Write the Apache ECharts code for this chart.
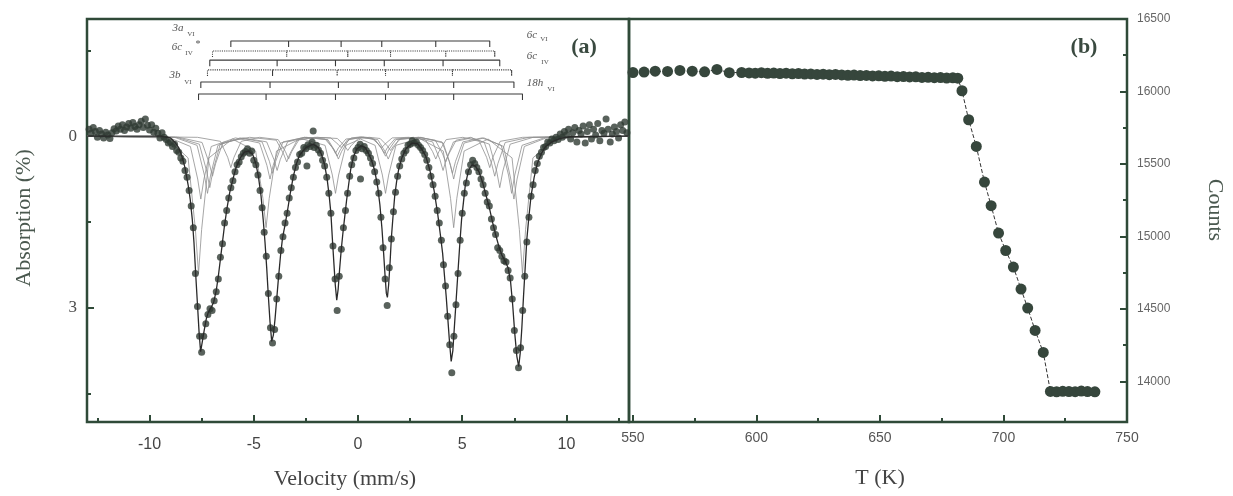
<!DOCTYPE html>
<html><head><meta charset="utf-8">
<script src="https://cdn.jsdelivr.net/npm/echarts@6/dist/echarts.min.js"></script>
<style>html,body{margin:0;padding:0;background:#fff}#c{width:1233px;height:496px}</style>
</head><body><div id="c"></div>
<script>
// ---------------- data ----------------
const velocityTicks = [-10, -5, 0, 5, 10];
const velocityMinorTicks = [-12.5, -7.5, -2.5, 2.5, 7.5, 12.5];
const absorptionTicks = [0, 3];
const absorptionMinorTicks = [-1.5, 1.5, 4.5];
const tempTicks = [550, 600, 650, 700, 750];
const tempMinorTicks = [575, 625, 675, 725];
const countTicks = [14000, 14500, 15000, 15500, 16000, 16500];
const countMinorTicks = [14250, 14750, 15250, 15750, 16250];

// Mossbauer spectrum: [velocity mm/s, absorption %]
const spectrumPoints = [
[-12.9,-0.12],[-12.8,-0.05],[-12.7,-0.15],[-12.6,-0.08],[-12.5,0.02],[-12.4,-0.1],[-12.3,-0.04],[-12.2,0.03],[-12.1,-0.07],[-12.0,-0.02],
[-11.9,0.04],[-11.8,-0.06],[-11.7,-0.13],[-11.6,-0.09],[-11.5,-0.18],[-11.4,-0.12],[-11.3,-0.2],[-11.2,-0.1],[-11.1,-0.16],[-11.0,-0.22],
[-10.9,-0.14],[-10.8,-0.24],[-10.7,-0.17],[-10.6,-0.12],[-10.5,-0.2],[-10.4,-0.26],[-10.3,-0.15],[-10.2,-0.3],[-10.1,-0.19],[-10.0,-0.11],
[-9.9,-0.2],[-9.8,-0.07],[-9.7,-0.14],[-9.6,-0.05],[-9.5,0.03],[-9.4,-0.06],[-9.3,0.02],[-9.2,0.06],[-9.1,0.12],[-9.0,0.1],
[-8.9,0.18],[-8.8,0.14],[-8.7,0.25],[-8.6,0.28],[-8.5,0.38],[-8.4,0.44],[-8.3,0.6],[-8.2,0.72],[-8.1,0.95],[-8.0,1.22],
[-7.9,1.6],[-7.8,2.4],[-7.7,2.98],[-7.6,3.5],[-7.5,3.78],[-7.4,3.5],[-7.3,3.28],[-7.2,3.12],[-7.1,3.02],[-7.0,3.05],
[-6.9,2.88],[-6.8,2.72],[-6.7,2.5],[-6.6,2.12],[-6.5,1.88],[-6.4,1.52],[-6.3,1.3],[-6.2,1.08],[-6.1,0.9],[-6.0,0.78],
[-5.9,0.62],[-5.8,0.5],[-5.7,0.45],[-5.6,0.36],[-5.5,0.3],[-5.4,0.27],[-5.3,0.22],[-5.2,0.3],[-5.1,0.26],[-5.0,0.42],
[-4.9,0.5],[-4.8,0.68],[-4.7,0.95],[-4.6,1.25],[-4.5,1.68],[-4.4,2.1],[-4.3,2.75],[-4.2,3.35],[-4.1,3.62],[-4.0,3.38],
[-3.9,2.85],[-3.8,2.45],[-3.7,2.0],[-3.6,1.76],[-3.5,1.52],[-3.4,1.35],[-3.3,1.08],[-3.2,0.9],[-3.1,0.72],[-3.0,0.55],
[-2.9,0.45],[-2.8,0.32],[-2.7,0.3],[-2.6,0.2],[-2.5,0.22],[-2.45,0.52],[-2.4,0.15],[-2.3,0.18],[-2.2,0.1],[-2.15,-0.09],[-2.1,0.2],[-2.0,0.16],
[-1.9,0.24],[-1.8,0.3],[-1.7,0.42],[-1.6,0.52],[-1.5,0.72],[-1.4,1.0],[-1.3,1.35],[-1.2,1.92],[-1.1,2.5],[-1.0,3.05],
[-0.9,2.45],[-0.8,1.98],[-0.7,1.6],[-0.6,1.3],[-0.5,1.0],[-0.4,0.7],[-0.3,0.5],[-0.2,0.38],[-0.1,0.25],[0.0,0.2],
[0.1,0.14],[0.12,0.75],[0.2,0.22],[0.3,0.18],[0.4,0.25],[0.5,0.3],[0.6,0.38],[0.7,0.48],[0.8,0.62],[0.9,0.8],[1.0,1.0],
[1.1,1.42],[1.2,1.95],[1.3,2.5],[1.4,2.96],[1.5,2.3],[1.6,1.8],[1.7,1.32],[1.8,0.98],[1.9,0.7],[2.0,0.52],
[2.1,0.4],[2.2,0.3],[2.3,0.25],[2.4,0.16],[2.5,0.14],[2.6,0.08],[2.7,0.12],[2.8,0.1],[2.9,0.16],[3.0,0.2],
[3.1,0.25],[3.2,0.32],[3.3,0.42],[3.4,0.55],[3.5,0.7],[3.6,0.85],[3.7,1.05],[3.8,1.3],[3.9,1.52],[4.0,1.82],
[4.1,2.25],[4.2,2.62],[4.3,3.15],[4.4,3.65],[4.5,4.14],[4.6,3.5],[4.7,2.95],[4.8,2.4],[4.9,1.82],[5.0,1.35],
[5.1,1.0],[5.2,0.82],[5.3,0.62],[5.4,0.5],[5.5,0.42],[5.6,0.48],[5.7,0.55],[5.8,0.62],[5.9,0.75],[6.0,0.85],
[6.1,1.0],[6.2,1.15],[6.3,1.22],[6.4,1.45],[6.5,1.6],[6.6,1.72],[6.7,1.95],[6.8,2.0],[6.9,2.1],[7.0,2.18],
[7.1,2.2],[7.2,2.35],[7.3,2.48],[7.4,2.85],[7.5,3.4],[7.6,3.75],[7.7,4.05],[7.8,3.7],[7.9,3.05],[8.0,2.45],
[8.1,1.85],[8.2,1.42],[8.3,1.05],[8.4,0.85],[8.5,0.6],[8.6,0.48],[8.7,0.35],[8.8,0.28],[8.9,0.2],[9.0,0.18],
[9.1,0.1],[9.2,0.12],[9.3,0.05],[9.4,0.08],[9.5,0.02],[9.6,0.06],[9.7,-0.04],[9.8,0.02],[9.9,-0.08],[10.0,-0.02],
[10.1,-0.12],[10.2,0.05],[10.3,-0.06],[10.4,-0.15],[10.5,0.1],[10.6,-0.1],[10.7,-0.04],[10.8,-0.18],[10.9,0.12],[11.0,-0.08],
[11.1,-0.2],[11.2,0.05],[11.3,-0.12],[11.4,-0.02],[11.5,-0.22],[11.6,0.08],[11.7,-0.1],[11.8,-0.05],[11.9,-0.3],[12.0,-0.12],
[12.1,0.1],[12.2,-0.04],[12.3,-0.16],[12.4,-0.08],[12.5,0.03],[12.6,-0.2],[12.7,-0.1],[12.8,-0.25],[12.9,-0.06]
];

// total fit curve
const fitCurve = [
[-13,0],[-9.5,0],[-9.0,0.03],[-8.8,0.1],[-8.6,0.2],[-8.45,0.35],[-8.3,0.55],[-8.15,0.85],[-8.05,1.1],[-7.95,1.45],
[-7.87,1.85],[-7.78,2.45],[-7.7,2.95],[-7.62,3.45],[-7.55,3.77],[-7.47,3.6],[-7.38,3.4],[-7.28,3.2],[-7.18,3.08],[-7.05,3.0],
[-6.92,2.9],[-6.8,2.7],[-6.7,2.45],[-6.6,2.15],[-6.5,1.85],[-6.4,1.55],[-6.28,1.25],[-6.15,0.98],[-6.0,0.75],[-5.85,0.55],
[-5.65,0.38],[-5.45,0.28],[-5.25,0.26],[-5.05,0.32],[-4.9,0.48],[-4.78,0.7],[-4.65,1.05],[-4.55,1.45],[-4.46,1.86],[-4.38,2.3],
[-4.3,2.8],[-4.22,3.25],[-4.14,3.59],[-4.06,3.48],[-3.98,3.2],[-3.9,2.85],[-3.82,2.5],[-3.72,2.1],[-3.62,1.78],[-3.5,1.55],
[-3.38,1.3],[-3.25,1.0],[-3.1,0.7],[-2.95,0.48],[-2.8,0.33],[-2.5,0.2],[-2.15,0.14],[-1.9,0.2],[-1.75,0.32],[-1.6,0.5],
[-1.48,0.75],[-1.38,1.05],[-1.3,1.35],[-1.22,1.85],[-1.15,2.26],[-1.09,2.6],[-1.02,2.87],[-0.95,2.67],[-0.88,2.32],[-0.8,1.97],
[-0.72,1.68],[-0.64,1.42],[-0.55,1.13],[-0.45,0.85],[-0.35,0.58],[-0.22,0.36],[-0.05,0.22],[0.15,0.17],[0.35,0.2],[0.5,0.3],
[0.65,0.42],[0.8,0.6],[0.95,0.9],[1.05,1.2],[1.15,1.62],[1.23,2.05],[1.3,2.45],[1.36,2.75],[1.41,2.82],[1.47,2.6],
[1.54,2.2],[1.6,1.78],[1.68,1.4],[1.76,1.05],[1.85,0.8],[1.95,0.58],[2.1,0.38],[2.3,0.22],[2.6,0.12],[2.85,0.13],
[3.05,0.22],[3.25,0.35],[3.45,0.6],[3.65,0.95],[3.82,1.35],[3.95,1.72],[4.06,2.05],[4.15,2.45],[4.23,2.8],[4.31,3.2],
[4.39,3.6],[4.47,3.94],[4.55,3.75],[4.63,3.3],[4.72,2.8],[4.8,2.35],[4.89,1.85],[4.97,1.45],[5.06,1.15],[5.15,0.85],
[5.3,0.6],[5.47,0.5],[5.62,0.52],[5.8,0.62],[5.97,0.8],[6.13,1.02],[6.3,1.25],[6.45,1.5],[6.6,1.72],[6.75,1.92],
[6.9,2.08],[7.05,2.18],[7.2,2.3],[7.32,2.55],[7.42,2.95],[7.52,3.45],[7.62,3.85],[7.71,4.03],[7.78,3.8],[7.86,3.35],
[7.94,2.8],[8.02,2.3],[8.1,1.8],[8.2,1.4],[8.3,1.05],[8.45,0.72],[8.6,0.48],[8.8,0.3],[9.0,0.18],[9.3,0.1],
[9.7,0.04],[10.2,0.01],[13,0]
];

// sub-spectra (sextets)
const sextet1 = [[-13,0],[-7.7,0.02],[-6.6,0.09],[-6.25,0.37],[-6.1,0.55],[-5.95,0.37],[-5.6,0.09],[-4.72,0.02],[-3.83,0.06],[-3.48,0.27],[-3.33,0.4],[-3.18,0.27],[-2.83,0.06],[-2.07,0.02],[-1.31,0.03],[-0.96,0.14],[-0.81,0.2],[-0.66,0.14],[-0.31,0.03],[0.17,0.01],[0.64,0.03],[0.99,0.14],[1.14,0.2],[1.29,0.14],[1.64,0.03],[2.44,0.02],[3.23,0.06],[3.58,0.27],[3.73,0.4],[3.88,0.27],[4.23,0.06],[5.03,0.02],[5.82,0.09],[6.17,0.37],[6.32,0.55],[6.47,0.37],[6.82,0.09],[7.9,0.02],[13,0]];
const sextet2 = [[-13,0],[-8.6,0.02],[-7.48,0.11],[-7.13,0.48],[-6.98,0.7],[-6.83,0.48],[-6.48,0.11],[-5.2,0.02],[-3.92,0.07],[-3.57,0.31],[-3.42,0.45],[-3.27,0.31],[-2.92,0.07],[-1.96,0.02],[-0.99,0.04],[-0.64,0.17],[-0.49,0.25],[-0.34,0.17],[0.01,0.04],[0.54,0.02],[1.06,0.04],[1.41,0.17],[1.56,0.25],[1.71,0.17],[2.06,0.04],[2.89,0.02],[3.71,0.07],[4.06,0.31],[4.21,0.45],[4.36,0.31],[4.71,0.07],[5.39,0.02],[6.06,0.11],[6.41,0.48],[6.56,0.7],[6.71,0.48],[7.06,0.11],[8.2,0.02],[13,0]];
const sextet3 = [[-13,0],[-8.7,0.02],[-7.61,0.14],[-7.26,0.61],[-7.11,0.9],[-6.96,0.61],[-6.61,0.14],[-5.5,0.03],[-4.38,0.1],[-4.03,0.41],[-3.88,0.6],[-3.73,0.41],[-3.38,0.1],[-2.48,0.02],[-1.58,0.05],[-1.23,0.2],[-1.08,0.3],[-0.93,0.2],[-0.58,0.05],[0.09,0.02],[0.76,0.05],[1.11,0.2],[1.26,0.3],[1.41,0.2],[1.76,0.05],[2.67,0.02],[3.58,0.1],[3.93,0.41],[4.08,0.6],[4.23,0.41],[4.58,0.1],[5.44,0.03],[6.3,0.14],[6.65,0.61],[6.8,0.9],[6.95,0.61],[7.3,0.14],[8.4,0.02],[13,0]];
const sextet4 = [[-13,0],[-8.8,0.02],[-7.72,0.16],[-7.37,0.68],[-7.22,1.0],[-7.07,0.68],[-6.72,0.16],[-5.66,0.03],[-4.6,0.1],[-4.25,0.44],[-4.1,0.65],[-3.95,0.44],[-3.6,0.1],[-2.55,0.02],[-1.5,0.06],[-1.15,0.24],[-1.0,0.35],[-0.85,0.24],[-0.5,0.06],[0.16,0.02],[0.82,0.06],[1.17,0.24],[1.32,0.35],[1.47,0.24],[1.82,0.06],[2.93,0.02],[4.03,0.1],[4.38,0.44],[4.53,0.65],[4.68,0.44],[5.03,0.1],[5.95,0.03],[6.87,0.16],[7.22,0.68],[7.37,1.0],[7.52,0.68],[7.87,0.16],[9.0,0.02],[13,0]];
const sextet5 = [[-13,0],[-9.1,0.02],[-8.04,0.18],[-7.69,0.75],[-7.54,1.1],[-7.39,0.75],[-7.04,0.18],[-5.88,0.03],[-4.72,0.12],[-4.37,0.51],[-4.22,0.75],[-4.07,0.51],[-3.72,0.12],[-2.58,0.02],[-1.44,0.06],[-1.09,0.27],[-0.94,0.4],[-0.79,0.27],[-0.44,0.06],[0.26,0.02],[0.95,0.06],[1.3,0.27],[1.45,0.4],[1.6,0.27],[1.95,0.06],[3.02,0.02],[4.09,0.12],[4.44,0.51],[4.59,0.75],[4.74,0.51],[5.09,0.12],[6.04,0.03],[6.98,0.18],[7.33,0.75],[7.48,1.1],[7.63,0.75],[7.98,0.18],[9.1,0.02],[13,0]];
const sextet6 = [[-13,0],[-9.2,0.03],[-8.15,0.38],[-7.8,1.63],[-7.65,2.4],[-7.5,1.63],[-7.15,0.38],[-6.03,0.05],[-4.91,0.26],[-4.56,1.09],[-4.41,1.6],[-4.26,1.09],[-3.91,0.26],[-2.75,0.04],[-1.58,0.16],[-1.23,0.68],[-1.08,1.0],[-0.93,0.68],[-0.58,0.16],[0.12,0.05],[0.82,0.16],[1.17,0.68],[1.32,1.0],[1.47,0.68],[1.82,0.16],[2.95,0.04],[4.09,0.26],[4.44,1.09],[4.59,1.6],[4.74,1.09],[5.09,0.26],[6.24,0.05],[7.39,0.38],[7.74,1.63],[7.89,2.4],[8.04,1.63],[8.39,0.38],[9.5,0.03],[13,0]];

// stick diagrams (line positions, mm/s), top row to bottom row
const stickRow1 = [-6.10, -3.33, -0.81, 1.14, 3.73, 6.32];
const stickRow2 = [-6.98, -3.42, -0.49, 1.56, 4.21, 6.56];
const stickRow3 = [-7.11, -3.88, -1.08, 1.26, 4.08, 6.80];
const stickRow4 = [-7.22, -4.10, -1.00, 1.32, 4.53, 7.37];
const stickRow5 = [-7.54, -4.22, -0.94, 1.45, 4.59, 7.48];
const stickRow6 = [-7.65, -4.41, -1.08, 1.32, 4.59, 7.89];

// panel (b): temperature scan
const tempK = [550,554.5,559,564,569,574,579,584,589,594,
 597,599.5,602,604.5,607,609.5,612,614.5,617,619.5,622,624.5,627,629.5,632,634.5,637,639.5,642,644.5,647,649.5,652,654.5,657,659.5,662,664.5,667,669.5,672,674.5,677,679.5,681.5,
 683.2,685.9,689.0,692.3,695.0,698.0,700.9,704.0,707.1,709.8,712.8,716.1,
 719,721.5,724,726.5,729,731.5,734,737];
const counts = [16131,16134,16140,16138,16145,16140,16136,16152,16130,16131,
 16128,16126,16130,16125,16127,16124,16126,16122,16124,16120,16121,16118,16119,16116,16118,16114,16112,16113,16110,16111,16107,16108,16105,16106,16102,16103,16100,16101,16097,16098,16095,16096,16093,16094,16092,
 16005,15805,15621,15375,15212,15023,14903,14789,14637,14506,14352,14200,
 13931,13928,13932,13930,13929,13933,13930,13928];

// ---------------- chart ----------------
const FRAME = '#2f4a38';
const SERIF = '"Liberation Serif","DejaVu Serif",serif';
const SANS = '"Liberation Sans","DejaVu Sans",sans-serif';
const ROW_Y = [-1.665, -1.49, -1.33, -1.16, -0.948, -0.738];
const TICK = 0.105;

function stickPath(vals, y) {
  const d = [[vals[0], y + TICK], [vals[0], y]];
  for (let i = 1; i < vals.length; i++) { d.push([vals[i], y], [vals[i], y + TICK], [vals[i], y]); }
  return d;
}

function valAxis(o) {
  return Object.assign({
    type: 'value', splitLine: {show: false}, axisLine: {show: false, onZero: false},
  }, o);
}
const plain = v => String(v);

const chart = echarts.init(document.getElementById('c'), null, {renderer: 'canvas'});

const stickRows = [stickRow1, stickRow2, stickRow3, stickRow4, stickRow5, stickRow6];
const stickSeries = stickRows.map((r, i) => ({
  type: 'line', xAxisIndex: 0, yAxisIndex: 0, symbol: 'none', silent: true, animation: false,
  data: stickPath(r, ROW_Y[i]),
  lineStyle: {color: '#3a3a3a', width: 1.1, type: (i === 1 || i === 3) ? 'dotted' : 'solid'},
  z: 4
}));

const sextets = [sextet1, sextet2, sextet3, sextet4, sextet5, sextet6];
const sextetSeries = sextets.map(s => ({
  type: 'line', xAxisIndex: 0, yAxisIndex: 0, symbol: 'none', silent: true, animation: false,
  data: s, lineStyle: {color: '#8f8f8f', width: 0.8}, z: 2
}));

function txt(text, x, y, font, fill, rot) {
  return {type: 'text', x: x, y: y, rotation: rot || 0, z: 100,
    style: {text: text, x: 0, y: 0, font: font, fill: fill,
      textAlign: 'center', textVerticalAlign: 'middle', align: 'center', verticalAlign: 'middle'}};
}
const lblFont = 'italic 11px ' + SERIF;
const subFont = '7px ' + SERIF;
const lblCol = '#555';

const option = {
  backgroundColor: '#ffffff',
  animation: false,
  grid: [
    {left: 87, right: 604, top: 19, bottom: 74, show: true, borderColor: FRAME, borderWidth: 2.5, backgroundColor: 'transparent'},
    {left: 629, right: 106, top: 19, bottom: 74, show: true, borderColor: FRAME, borderWidth: 2.5, backgroundColor: 'transparent'}
  ],
  xAxis: [
    valAxis({gridIndex: 0, min: -13, max: 13, position: 'bottom',
      axisTick: {show: true, inside: true, length: 7, customValues: velocityTicks, lineStyle: {color: FRAME, width: 2}},
      axisLabel: {show: true, customValues: velocityTicks, formatter: plain, margin: 15, fontSize: 16, color: '#444', fontFamily: SANS}}),
    valAxis({gridIndex: 0, min: -13, max: 13, position: 'bottom',
      axisTick: {show: true, inside: true, length: 4, customValues: velocityMinorTicks, lineStyle: {color: FRAME, width: 2}},
      axisLabel: {show: false}}),
    valAxis({gridIndex: 1, min: 548.4, max: 750, position: 'bottom',
      axisTick: {show: true, inside: true, length: 7, customValues: tempTicks, lineStyle: {color: FRAME, width: 2}},
      axisLabel: {show: true, customValues: tempTicks, formatter: plain, margin: 9, fontSize: 14, color: '#555', fontFamily: SANS}}),
    valAxis({gridIndex: 1, min: 548.4, max: 750, position: 'bottom',
      axisTick: {show: true, inside: true, length: 4, customValues: tempMinorTicks, lineStyle: {color: FRAME, width: 2}},
      axisLabel: {show: false}})
  ],
  yAxis: [
    valAxis({gridIndex: 0, min: -2.05, max: 5.0, inverse: true, position: 'left',
      axisTick: {show: true, inside: true, length: 7, customValues: absorptionTicks, lineStyle: {color: FRAME, width: 2}},
      axisLabel: {show: true, customValues: absorptionTicks, formatter: plain, margin: 10, fontSize: 17, color: '#4d4d4d', fontFamily: SERIF}}),
    valAxis({gridIndex: 0, min: -2.05, max: 5.0, inverse: true, position: 'left',
      axisTick: {show: true, inside: true, length: 4, customValues: absorptionMinorTicks, lineStyle: {color: FRAME, width: 2}},
      axisLabel: {show: false}}),
    valAxis({gridIndex: 1, min: 13720, max: 16500, position: 'right',
      axisTick: {show: true, inside: true, length: 7, customValues: countTicks, lineStyle: {color: FRAME, width: 2}},
      axisLabel: {show: true, customValues: countTicks, formatter: plain, margin: 10, fontSize: 12, color: '#666', fontFamily: SANS}}),
    valAxis({gridIndex: 1, min: 13720, max: 16500, position: 'right',
      axisTick: {show: true, inside: true, length: 4, customValues: countMinorTicks, lineStyle: {color: FRAME, width: 2}},
      axisLabel: {show: false}})
  ],
  series: [
    ...sextetSeries,
    {type: 'scatter', xAxisIndex: 0, yAxisIndex: 0, data: spectrumPoints, symbolSize: 7,
      itemStyle: {color: '#2f3b33'}, z: 3, silent: true},
    {type: 'line', xAxisIndex: 0, yAxisIndex: 0, data: fitCurve, symbol: 'none', silent: true,
      lineStyle: {color: '#2a2a2a', width: 1.3}, z: 5},
    ...stickSeries,
    {type: 'line', xAxisIndex: 2, yAxisIndex: 2, data: tempK.map((t, i) => [t, counts[i]]),
      symbol: 'circle', symbolSize: 11, showSymbol: true, silent: true,
      itemStyle: {color: '#36463c'}, lineStyle: {color: '#333', width: 1, type: 'dashed'}, z: 3}
  ],
  graphic: [
    txt('Absorption (%)', 24, 218, '22px ' + SERIF, '#4a584f', Math.PI / 2),
    txt('Counts', 1215, 210, '22px ' + SERIF, '#4a584f', -Math.PI / 2),
    txt('Velocity (mm/s)', 345, 479, '22px ' + SERIF, '#444'),
    txt('T (K)', 880, 478, '22px ' + SERIF, '#444'),
    txt('(a)', 584, 47, 'bold 22px ' + SERIF, '#3a4a40'),
    txt('(b)', 1084, 47, 'bold 22px ' + SERIF, '#3a4a40'),
    txt('3a', 178, 28, lblFont, lblCol), txt('VI', 191, 34, subFont, lblCol),
    txt('6c', 177, 47, lblFont, lblCol), txt('IV', 189, 53, subFont, lblCol), txt('*', 198, 44, '10px ' + SERIF, lblCol),
    txt('3b', 175, 75, lblFont, lblCol), txt('VI', 188, 82, subFont, lblCol),
    txt('6c', 532, 35, lblFont, lblCol), txt('VI', 544, 39, subFont, lblCol),
    txt('6c', 532, 56, lblFont, lblCol), txt('IV', 545, 62, subFont, lblCol),
    txt('18h', 535, 83, lblFont, lblCol), txt('VI', 551, 89, subFont, lblCol)
  ]
};
chart.setOption(option);
</script>
</body></html>
